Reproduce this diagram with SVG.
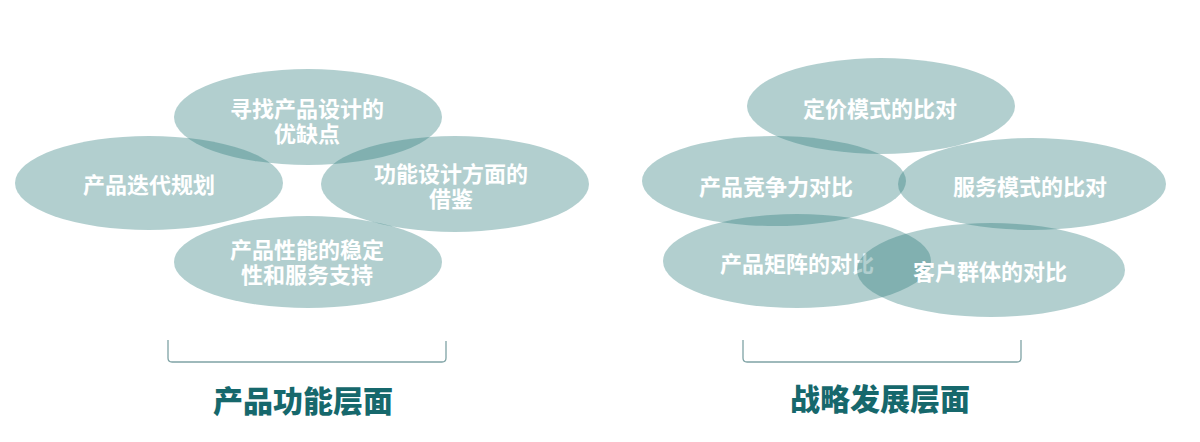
<svg xmlns="http://www.w3.org/2000/svg" width="1200" height="442" viewBox="0 0 1200 442">
<style>
.el{fill:#2d7c7e;fill-opacity:0.37}
.t{font-family:"Noto Sans CJK SC","Noto Sans",sans-serif;font-weight:700;font-size:22px;fill:#ffffff;text-anchor:middle;dominant-baseline:central}
.h{font-family:"Noto Sans CJK SC","Noto Sans",sans-serif;font-weight:900;font-size:30px;fill:#16686c;text-anchor:middle;dominant-baseline:central}
.br{fill:none;stroke:#7fa3a5;stroke-width:1.3}
</style>
<rect width="1200" height="442" fill="#ffffff"/>
<g id="node-top-left">
<ellipse class="el" cx="308" cy="117" rx="134" ry="48"/>
<text class="t" x="307" y="107">寻找产品设计的<tspan x="307" dy="25">优缺点</tspan></text>
</g>
<g id="node-left">
<ellipse class="el" cx="149" cy="183" rx="134" ry="47"/>
<text class="t" x="149" y="183">产品迭代规划</text>
</g>
<g id="node-right">
<ellipse class="el" cx="455" cy="184" rx="134" ry="48"/>
<text class="t" x="451" y="172">功能设计方面的<tspan x="451" dy="25">借鉴</tspan></text>
</g>
<g id="node-bottom">
<ellipse class="el" cx="308" cy="262" rx="134" ry="46"/>
<text class="t" x="307" y="248">产品性能的稳定<tspan x="307" dy="25">性和服务支持</tspan></text>
</g>
<g id="node-pricing">
<ellipse class="el" cx="881" cy="106" rx="134" ry="48"/>
<text class="t" x="880" y="107">定价模式的比对</text>
</g>
<g id="node-compete">
<ellipse class="el" cx="774" cy="181" rx="132" ry="45"/>
<text class="t" x="776" y="185">产品竞争力对比</text>
</g>
<g id="node-service">
<ellipse class="el" cx="1032" cy="184" rx="134" ry="46"/>
<text class="t" x="1030" y="185">服务模式的比对</text>
</g>
<g id="node-matrix">
<ellipse class="el" cx="797" cy="261" rx="134" ry="47"/>
<text class="t" x="797" y="262">产品矩阵的对比</text>
</g>
<g id="node-customer">
<ellipse class="el" cx="991" cy="270" rx="134" ry="47"/>
<text class="t" x="990" y="270">客户群体的对比</text>
</g>
<g id="connectors">
<path class="br" d="M168 340 V358 Q168 362 172 362 H442 Q446 362 446 358 V341"/>
<path class="br" d="M743 340 V358 Q743 362 747 362 H1017 Q1021 362 1021 358 V340"/>
</g>
<g id="label-left"><text class="h" x="303" y="399">产品功能层面</text></g>
<g id="label-right"><text class="h" x="880" y="397">战略发展层面</text></g>
</svg>
